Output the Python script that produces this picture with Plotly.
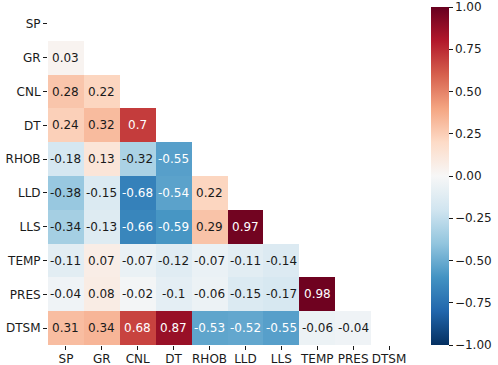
import plotly.graph_objects as go

labels = ["SP", "GR", "CNL", "DT", "RHOB", "LLD", "LLS", "TEMP", "PRES", "DTSM"]

# lower-triangle correlation values, row by row (row i has i values)
row_SP = []
row_GR = [0.03]
row_CNL = [0.28, 0.22]
row_DT = [0.24, 0.32, 0.7]
row_RHOB = [-0.18, 0.13, -0.32, -0.55]
row_LLD = [-0.38, -0.15, -0.68, -0.54, 0.22]
row_LLS = [-0.34, -0.13, -0.66, -0.59, 0.29, 0.97]
row_TEMP = [-0.11, 0.07, -0.07, -0.12, -0.07, -0.11, -0.14]
row_PRES = [-0.04, 0.08, -0.02, -0.1, -0.06, -0.15, -0.17, 0.98]
row_DTSM = [0.31, 0.34, 0.68, 0.87, -0.53, -0.52, -0.55, -0.06, -0.04]

rows = [row_SP, row_GR, row_CNL, row_DT, row_RHOB, row_LLD, row_LLS,
        row_TEMP, row_PRES, row_DTSM]

cbar_ticks = [-1, -0.75, -0.5, -0.25, 0, 0.25, 0.5, 0.75, 1]

n = len(labels)
z = []
for r in rows:
    z.append(list(r) + [None] * (n - len(r)))

rdbu_r = ["#053061", "#2166ac", "#4393c3", "#92c5de", "#d1e5f0", "#f7f7f7",
          "#fddbc7", "#f4a582", "#d6604d", "#b2182b", "#67001f"]
colorscale = [[i / 10, c] for i, c in enumerate(rdbu_r)]

FONT = "DejaVu Sans"
TXT = "#1a1a1a"

fig = go.Figure(go.Heatmap(
    z=z, x=labels, y=labels,
    colorscale=colorscale, zmin=-1, zmax=1,
    xgap=0, ygap=0, hoverongaps=False,
    colorbar=dict(
        thickness=18, len=1, lenmode="fraction", y=0.5, yanchor="middle",
        x=1.064, xanchor="left", xpad=0, ypad=0, outlinewidth=0,
        tickvals=cbar_ticks,
        ticktext=[format(t, ".2f").replace("-", "\u2212") for t in cbar_ticks],
        ticks="outside", ticklen=4, tickwidth=1,
        tickcolor=TXT,
        tickfont=dict(family=FONT, size=12, color=TXT),
    ),
))

for i, r in enumerate(rows):
    for j, v in enumerate(r):
        fig.add_annotation(
            x=labels[j], y=labels[i], text=format(v, ".2g"),
            showarrow=False,
            font=dict(family=FONT, size=12,
                      color="white" if abs(v) >= 0.45 else TXT),
        )

fig.update_layout(
    template="none",
    width=498, height=365,
    margin=dict(l=48, r=90, t=7, b=20),
    paper_bgcolor="white", plot_bgcolor="white",
    xaxis=dict(showgrid=False, zeroline=False, ticks="outside", ticklen=4,
               tickcolor=TXT, automargin=False, showline=False,
               tickangle=0, ticklabelstandoff=-1,
               tickfont=dict(family=FONT, size=12, color=TXT)),
    yaxis=dict(showgrid=False, zeroline=False, ticks="outside", ticklen=4,
               tickcolor=TXT, automargin=False, autorange="reversed",
               showline=False,
               tickfont=dict(family=FONT, size=12, color=TXT)),
)

fig.write_html("out.html", config={"displayModeBar": False},
               post_script="document.body.style.margin='0';")
